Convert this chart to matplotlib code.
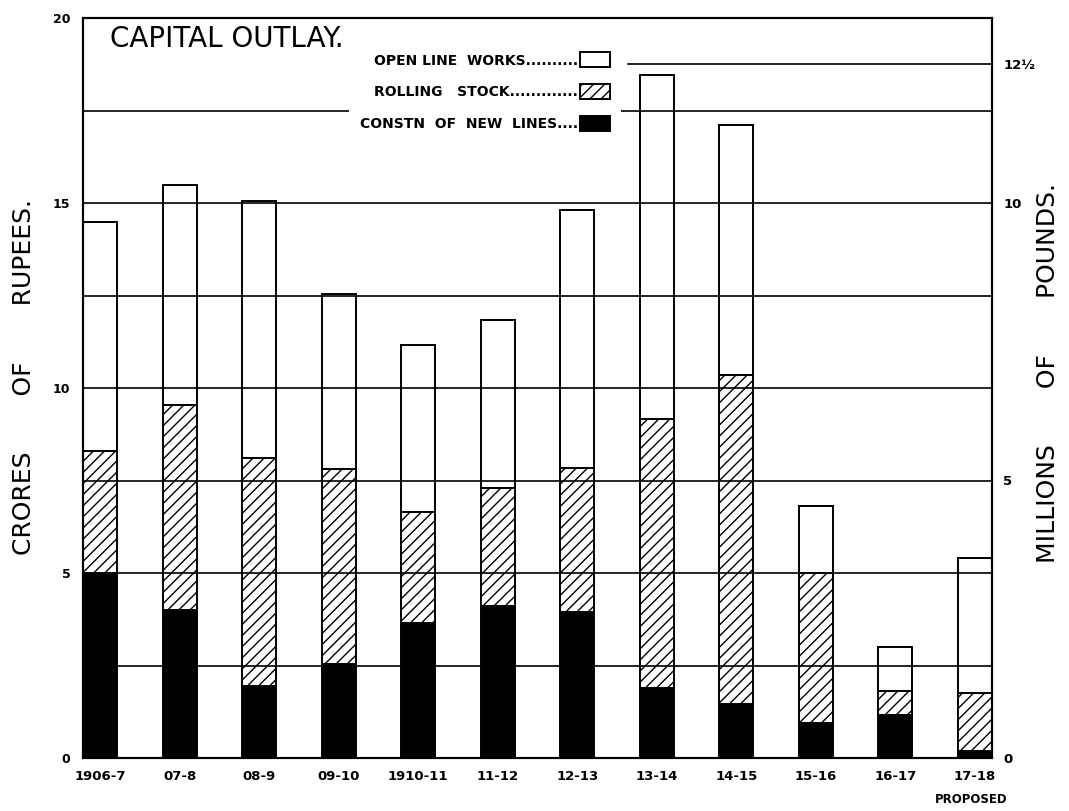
import matplotlib
matplotlib.use("Agg")
import matplotlib.pyplot as plt
from matplotlib.patches import Patch
import numpy as np

# data (crores of rupees)
years = ["1906-7", "07-8", "08-9", "09-10", "1910-11", "11-12",
         "12-13", "13-14", "14-15", "15-16", "16-17", "17-18"]
new_lines = [5.0, 4.0, 1.95, 2.55, 3.65, 4.1, 3.95, 1.9, 1.45, 0.95, 1.15, 0.2]
rolling_stock = [3.3, 5.55, 6.15, 5.25, 3.0, 3.2, 3.9, 7.25, 8.9, 4.05, 0.65, 1.55]
open_line = [6.2, 5.95, 6.95, 4.75, 4.5, 4.55, 6.95, 9.3, 6.75, 1.8, 1.2, 3.65]

left_ticks = [0, 5, 10, 15, 20]
right_ticks = [0, 5, 10, 12.5]
right_labels = ["0", "5", "10", "12½"]
grid_levels = [2.5, 5, 7.5, 10, 12.5, 15, 17.5]
pounds_per_crore = 2 / 3

plt.rcParams["hatch.linewidth"] = 1.0
plt.rcParams["font.family"] = "DejaVu Sans"

fig = plt.figure(figsize=(10.69, 8.11), dpi=100)
ax = fig.add_axes([83 / 1069, 53 / 811, 909 / 1069, 740 / 811])

x = np.arange(len(years))
w = 0.43
b1 = np.array(new_lines)
b2 = b1 + np.array(rolling_stock)

ax.bar(x, new_lines, w, color="black", edgecolor="black", linewidth=1.4, zorder=2)
ax.bar(x, rolling_stock, w, bottom=b1, color="white", edgecolor="black",
       hatch="///", linewidth=1.4, zorder=2)
ax.bar(x, open_line, w, bottom=b2, facecolor="none", edgecolor="black",
       linewidth=1.4, zorder=2)

for lv in grid_levels:
    ax.axhline(lv, color="black", linewidth=1.2, zorder=3)
# 12 1/2 millions line on the right only
ax.axhline(12.5 / pounds_per_crore, xmin=0.6, color="black", linewidth=1.2, zorder=3)

ax.set_xlim(-w / 2, len(years) - 1 + w / 2)
ax.set_ylim(0, 20)
ax.set_yticks(left_ticks)
ax.set_yticklabels([str(t) for t in left_ticks], fontsize=9, fontweight="bold")
ax.set_xticks(x)
ax.set_xticklabels(years, fontsize=9.5, fontweight="bold")
ax.tick_params(axis="both", length=0, pad=9)
for s in ax.spines.values():
    s.set_linewidth(1.5)

ax.set_ylabel("CRORES" + " " * 7 + "OF" + " " * 7 + "RUPEES.", fontsize=18)
ax.yaxis.set_label_coords(-0.052, 0.515)

ax.annotate("PROPOSED", xy=(len(years) - 1, 0), xytext=(-3, -30),
            textcoords="offset points", ha="center", va="center",
            fontsize=8.5, fontweight="bold")

ax2 = ax.twinx()
ax2.set_ylim(0, 20 * pounds_per_crore)
ax2.set_yticks(right_ticks)
ax2.set_yticklabels(right_labels, fontsize=9.5, fontweight="bold")
ax2.tick_params(axis="y", length=0, pad=8)
for s in ax2.spines.values():
    s.set_linewidth(1.5)
ax2.set_ylabel("MILLIONS" + " " * 7 + "OF" + " " * 7 + "POUNDS.", fontsize=18)
ax2.yaxis.set_label_coords(1.048, 0.52)

ax.text(0.03, 0.99, "CAPITAL OUTLAY.", transform=ax.transAxes,
        fontsize=20, va="top", ha="left")

handles = [Patch(facecolor="white", edgecolor="black", linewidth=1.4),
           Patch(facecolor="white", edgecolor="black", hatch="///", linewidth=1.4),
           Patch(facecolor="black", edgecolor="black", linewidth=1.4)]
labels = ["OPEN LINE  WORKS..........", "ROLLING   STOCK.............",
          "CONSTN  OF  NEW  LINES...."]
leg = ax2.legend(handles, labels, loc="upper left", bbox_to_anchor=(0.285, 0.978),
                 markerfirst=False, handlelength=2.2, handleheight=1.3,
                 labelspacing=1.2, handletextpad=0.1, borderpad=0.8,
                 frameon=True, fancybox=False, framealpha=1,
                 prop={"size": 10, "weight": "bold"})
leg.get_frame().set_edgecolor("none")
leg.set_zorder(10)

fig.savefig("out.png", dpi=100)
